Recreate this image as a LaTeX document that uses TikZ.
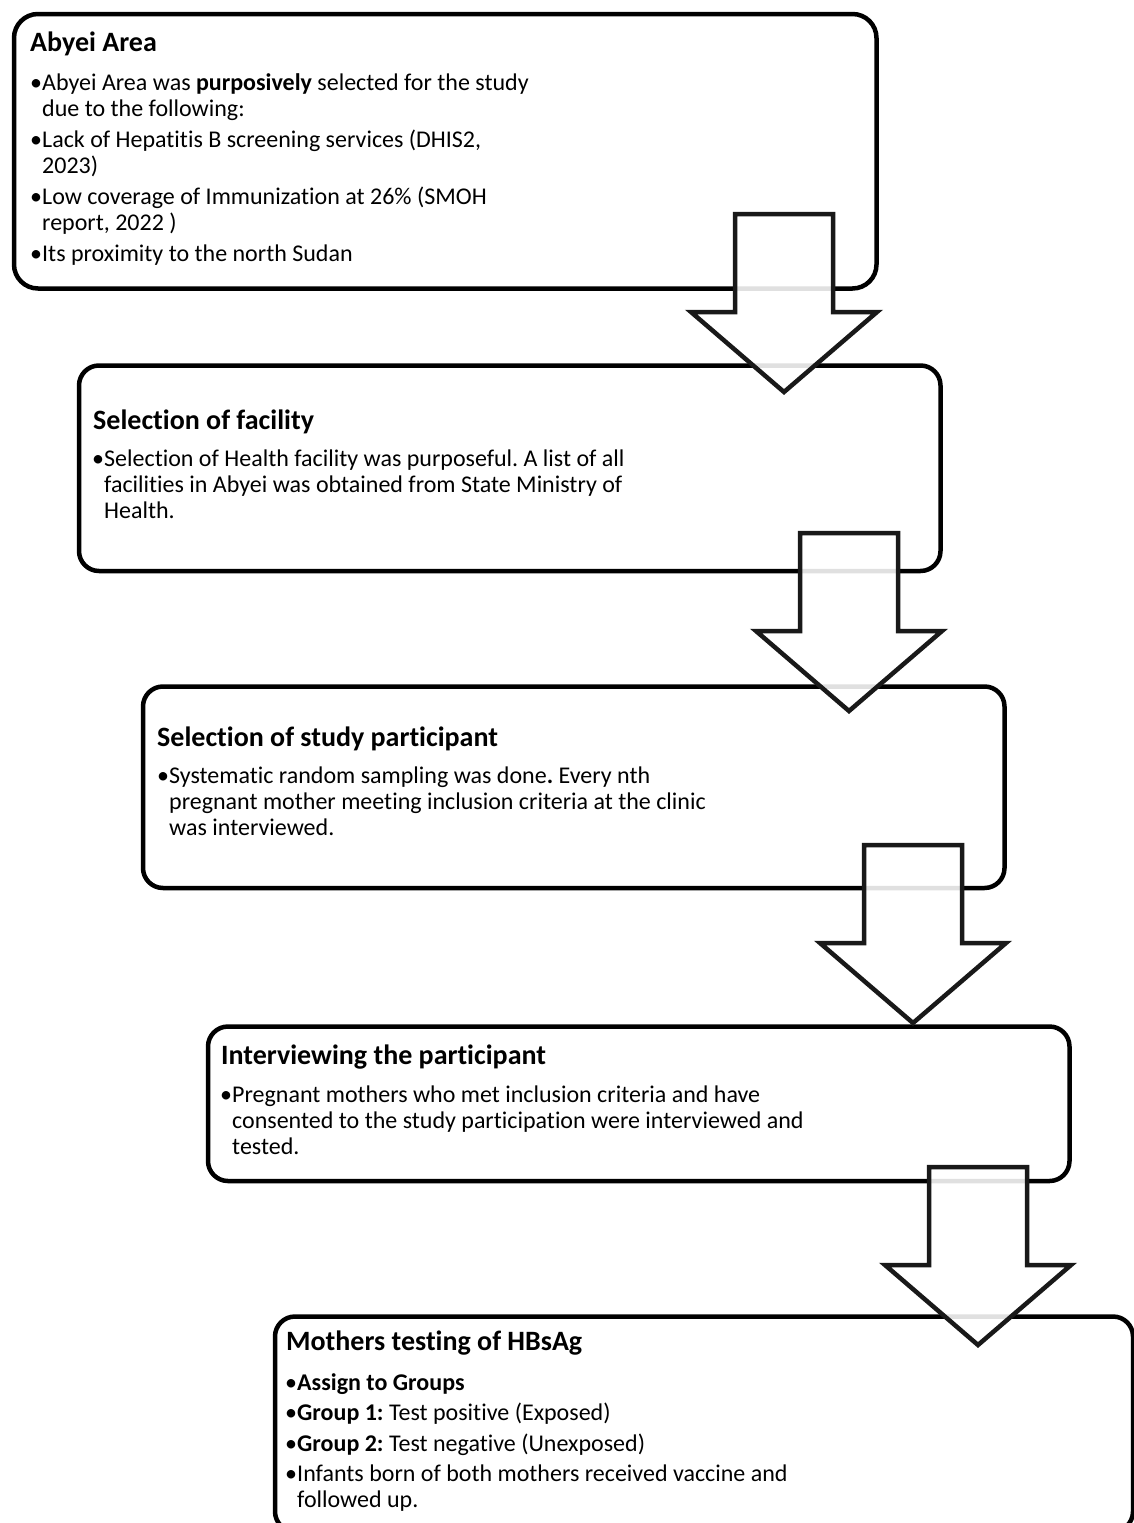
\documentclass[tikz,border=0pt]{standalone}
\usepackage{fontspec}
\setmainfont[Ligatures=NoCommon]{Carlito}
\frenchspacing
\newcommand\mltext[1]{\parbox[t]{760pt}{\raggedright #1}}
\begin{document}
\begin{tikzpicture}[x=1pt,y=-1pt,
  boxstyle/.style={draw=black, line width=4.5pt, rounded corners=20pt, inner sep=0pt, anchor=north west, fill=white},
  barrow/.style={draw=black!90, line width=4.5pt, fill=white, fill opacity=0.88, line join=miter},
  ttl/.style={anchor=base west, inner sep=0pt, font=\fontsize{28}{32}\selectfont\bfseries},
  bodytxt/.style={anchor=base west, inner sep=0pt, font=\fontsize{24}{26}\selectfont},
  bul/.style={anchor=base west, inner sep=0pt, font=\fontsize{24}{26}\selectfont},
]
\useasboundingbox (0,0) rectangle (1133,1523);
\fill[white] (0,0) rectangle (1133,1523);

% boxes
\node[boxstyle, rounded corners=24pt, minimum width=862.5pt, minimum height=274.5pt] (box1) at (11.75,11.75) {};
\node[boxstyle, minimum width=861.5pt, minimum height=205.5pt] (box2) at (76.75,363.25) {};
\node[boxstyle, minimum width=861.5pt, minimum height=201.5pt] (box3) at (140.75,684.25) {};
\node[boxstyle, minimum width=861.5pt, minimum height=154.5pt] (box4) at (205.75,1024.25) {};
\node[boxstyle, minimum width=858pt, minimum height=215pt] (box5) at (272.75,1314.25) {};

% box 1 text
\node[ttl] (t1) at (30,51) {Abyei Area};
\node[bul] (b11) at (30,90.5) {•};
\node[bodytxt] (x11) at (42,90.5) {\mltext{Abyei Area was \textbf{purposively} selected for the study\\due to the following:}};
\node[bul] (b12) at (30,147) {•};
\node[bodytxt] (x12) at (42,147) {\mltext{Lack of Hepatitis B screening services (DHIS2,\\2023)}};
\node[bul] (b13) at (30,204) {•};
\node[bodytxt] (x13) at (42,204) {\mltext{Low coverage of Immunization at 26\% (SMOH\\report, 2022 )}};
\node[bul] (b14) at (30,261) {•};
\node[bodytxt] (x14) at (42,261) {Its proximity to the north Sudan};

% box 2 text
\node[ttl] (t2) at (93,429) {Selection of facility};
\node[bul] (b21) at (92,466) {•};
\node[bodytxt] (x21) at (104,466) {\mltext{Selection of Health facility was purposeful. A list of all\\facilities in Abyei was obtained from State Ministry of\\Health.}};

% box 3 text
\node[ttl] (t3) at (157,746) {Selection of study participant};
\node[bul] (b31) at (157,783) {•};
\node[bodytxt] (x31) at (169,783) {\mltext{Systematic random sampling was done\textbf{.} Every nth\\pregnant mother meeting inclusion criteria at the clinic\\was interviewed.}};

% box 4 text
\node[ttl] (t4) at (221,1064) {Interviewing the participant};
\node[bul] (b41) at (220,1102) {•};
\node[bodytxt] (x41) at (232,1102) {\mltext{Pregnant mothers who met inclusion criteria and have\\consented to the study participation were interviewed and\\tested.}};

% box 5 text
\node[ttl] (t5) at (286,1350) {Mothers testing of HBsAg};
\node[bul] (b51) at (285,1390) {•};
\node[bodytxt] (x51) at (297,1390) {\textbf{Assign to Groups}};
\node[bul] (b52) at (285,1420.5) {•};
\node[bodytxt] (x52) at (297,1420.5) {\textbf{Group 1:} Test positive (Exposed)};
\node[bul] (b53) at (285,1451) {•};
\node[bodytxt] (x53) at (297,1451) {\textbf{Group 2:} Test negative (Unexposed)};
\node[bul] (b54) at (285,1481) {•};
\node[bodytxt] (x54) at (297,1481) {\mltext{Infants born of both mothers received vaccine and\\followed up.}};

% block arrows
\newcommand\blockarr[2]{%
  \draw[barrow] (#1-49,#2) -- (#1+49,#2) -- (#1+49,#2+98) -- (#1+93,#2+98)
    -- (#1,#2+178) -- (#1-93,#2+98) -- (#1-49,#2+98) -- cycle;}
\blockarr{784}{214}
\blockarr{849}{533}
\blockarr{913}{845}
\blockarr{978}{1167}
\end{tikzpicture}
\end{document}
